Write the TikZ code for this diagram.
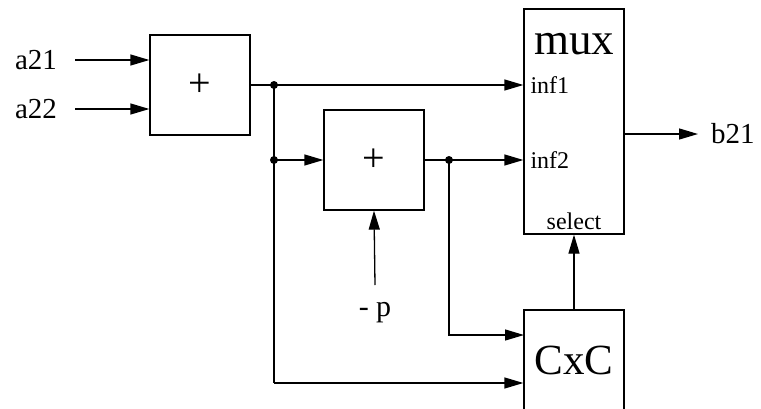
\documentclass[tikz,border=0pt]{standalone}
\usepackage{fontspec}
\setmainfont{Liberation Serif}
\usetikzlibrary{arrows.meta}
\begin{document}
\begin{tikzpicture}[x=1pt,y=-1pt,
  blk/.style={draw,line width=1.3pt,minimum width=100pt,minimum height=100pt,inner sep=0pt},
  lbl/.style={inner sep=0pt,font=\fontsize{29}{29}\selectfont},
  port/.style={inner sep=0pt,anchor=west,font=\fontsize{24}{24}\selectfont},
  wire/.style={line width=1.3pt},
  arr/.style={wire,-{Triangle[length=19pt,width=11pt]}},
  dot/.style={circle,fill,inner sep=0pt,minimum size=8pt}]
\useasboundingbox (0,0) rectangle (761,408);
\clip (0,0) rectangle (761,408);
\node[blk] (add1) at (200,85) {\fontsize{40}{40}\selectfont +};
\node[blk] (add2) at (374,160) {\fontsize{40}{40}\selectfont +};
\node[blk,minimum height=225pt] (mux) at (574,121.5) {};
\node[blk] (cxc) at (574,360) {\fontsize{43}{43}\selectfont CxC};
\node[inner sep=0pt,font=\fontsize{45}{45}\selectfont] (muxt) at (574,44) {mux};
\node[lbl] (a21) at (36,60.5) {a21};
\node[lbl] (a22) at (36,109) {a22};
\node[lbl,anchor=west] (b21) at (711,134) {b21};
\node[inner sep=0pt,font=\fontsize{30}{30}\selectfont] (mp) at (375,313) {- p};
\coordinate (a21o) at (75,60);
\coordinate (a22o) at (75,109);
\coordinate (d1) at (274,85);
\coordinate (d2) at (274,160);
\coordinate (d3) at (449,160);
\coordinate (bl) at (274,383);
\coordinate (c1) at (524,335);
\coordinate (mpo) at (375,285);
\coordinate (muxo) at (624,134);
\coordinate (b21i) at (698,134);
\coordinate (p1) at (mux.west |- d1);
\coordinate (p2) at (mux.west |- d3);
\node[port] (inf1) at ([xshift=7pt]p1) {inf1};
\node[port] (inf2) at ([xshift=7pt]p2) {inf2};
\node[inner sep=0pt,font=\fontsize{24}{24}\selectfont] (sel) at (574,221) {select};
\draw[arr] (a21o) -- (add1.west |- a21o);
\draw[arr] (a22o) -- (add1.west |- a22o);
\draw[wire] (add1.east) -- (d1);
\draw[arr] (d1) -- (p1);
\draw[wire] (d1) -- (bl);
\draw[arr] (bl) -- (cxc.west |- bl);
\draw[arr] (d2) -- (add2.west);
\draw[wire] (add2.east) -- (d3);
\draw[arr] (d3) -- (p2);
\draw[arr] (d3) |- (c1);
\draw[arr] (mpo) -- (add2.south);
\draw[arr] (cxc.north) -- (mux.south);
\draw[arr] (muxo) -- (b21i);
\node[dot] at (d1) {};
\node[dot] at (d2) {};
\node[dot] at (d3) {};
\end{tikzpicture}
\end{document}
